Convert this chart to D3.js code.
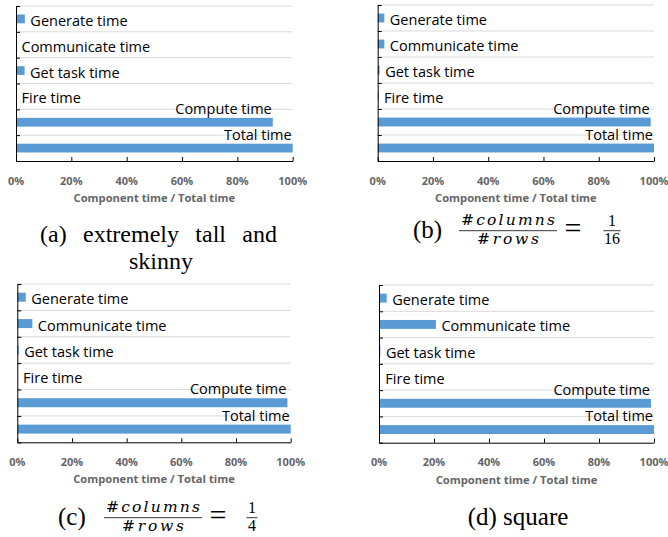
<!DOCTYPE html>
<html>
<head>
<meta charset="utf-8">
<script src="https://cdn.jsdelivr.net/npm/d3@7"></script>
<style>
  body { margin: 0; background: #fff; }
  svg { display: block; }
</style>
</head>
<body>
<svg id="fig"></svg>
<script>
// categories, top to bottom
const categories = ['Generate time', 'Communicate time', 'Get task time', 'Fire time', 'Compute time', 'Total time'];
// component time / total time, in %
const tallSkinny = [3.2, 0, 3.1, 0, 92.8, 100];
const ratio16 = [2.4, 2.4, 0.7, 0.3, 98.8, 100];
const ratio4 = [3.1, 5.5, 0.5, 0.1, 98.8, 100];
const square = [2.8, 20.7, 0.5, 0.3, 98.9, 100];
const xTicks = [0, 20, 40, 60, 80, 100];
const axisTitle = 'Component time / Total time';

(() => {
  const svgDim = { w: 668, h: 537 },
    $svg = d3.select('#fig'),
    labelFont = "'Open Sans', sans-serif",
    serif = "'Liberation Serif', 'Times New Roman', serif",
    mathFont = "'DejaVu Serif', serif",
    barColor = '#5b9bd5';

  $svg.attr('width', svgDim.w)
    .attr('height', svgDim.h)
    .attr('viewBox', '0 0 ' + svgDim.w + ' ' + svgDim.h);

  const drawPanel = (box, values) => {
    const xScale = d3.scaleLinear().domain([0, 100]).range([box.x0, box.x1]),
      yScale = d3.scaleBand().domain(categories).range([box.y0, box.y1]),
      edge = d3.scaleLinear().domain([0, categories.length]).range([box.y0, box.y1]),
      barH = yScale.bandwidth() * 0.34,
      g = $svg.append('g');

    // gridlines on the category borders
    g.selectAll('line.grid')
      .data(d3.range(categories.length))
      .enter()
      .append('line')
      .attr('class', 'grid')
      .attr('x1', box.x0)
      .attr('x2', box.x1)
      .attr('y1', (d) => edge(d))
      .attr('y2', (d) => edge(d))
      .attr('stroke', '#d9d9d9')
      .attr('stroke-width', 1);

    const rows = categories.map((c, i) => ({ name: c, v: values[i] }));

    g.selectAll('rect.bar')
      .data(rows)
      .enter()
      .append('rect')
      .attr('class', 'bar')
      .attr('x', xScale(0))
      .attr('y', (d) => yScale(d.name) + yScale.bandwidth() / 2 - barH / 2)
      .attr('width', (d) => xScale(d.v) - xScale(0))
      .attr('height', barH)
      .attr('fill', barColor);

    // data labels: long bars get the label above, right aligned
    g.selectAll('text.lbl')
      .data(rows)
      .enter()
      .append('text')
      .attr('class', 'lbl')
      .attr('font-family', labelFont)
      .attr('font-size', 14.5)
      .attr('fill', '#000')
      .attr('text-anchor', (d) => d.v > 50 ? 'end' : 'start')
      .attr('x', (d) => d.v > 50 ? xScale(d.v) - 1 : xScale(d.v) + 5.5)
      .attr('y', (d) => d.v > 50
        ? yScale(d.name) + yScale.bandwidth() / 2 - barH / 2 - 4
        : yScale(d.name) + yScale.bandwidth() / 2 + 7)
      .text((d) => d.name);

    // axes
    g.append('g')
      .attr('transform', 'translate(' + box.x0 + ',0)')
      .call(d3.axisLeft(edge).tickValues(d3.range(categories.length + 1)).tickFormat('').tickSizeInner(-4).tickSizeOuter(0));
    g.append('g')
      .attr('transform', 'translate(0,' + box.y1 + ')')
      .call(d3.axisBottom(xScale).tickValues(xTicks).tickFormat('').tickSizeInner(-4).tickSizeOuter(0));
    g.selectAll('.domain, .tick line').attr('stroke', '#000');

    g.selectAll('text.xt')
      .data(xTicks)
      .enter()
      .append('text')
      .attr('class', 'xt')
      .attr('x', (d) => xScale(d))
      .attr('y', box.y1 + 23.5)
      .attr('text-anchor', 'middle')
      .attr('font-family', labelFont)
      .attr('font-weight', 'bold')
      .attr('font-size', 11)
      .attr('fill', '#666')
      .text((d) => d + '%');

    g.append('text')
      .attr('x', (box.x0 + box.x1) / 2)
      .attr('y', box.y1 + 41)
      .attr('text-anchor', 'middle')
      .attr('font-family', labelFont)
      .attr('font-weight', 'bold')
      .attr('font-size', 11.2)
      .attr('fill', '#666')
      .text(axisTitle);
  };

  const fractionCaption = (x, y, tag, den) => {
    const g = $svg.append('g').attr('transform', 'translate(' + x + ',' + y + ')');
    g.append('text')
      .attr('font-family', serif).attr('font-size', 25)
      .attr('x', 0).attr('y', 0)
      .text(tag);
    // #columns / #rows
    g.append('text')
      .attr('font-family', mathFont).attr('font-style', 'italic').attr('font-size', 15.5)
      .attr('text-anchor', 'middle').attr('x', 95).attr('y', -13)
      .attr('textLength', 94).attr('lengthAdjust', 'spacing')
      .text('#columns');
    g.append('line')
      .attr('x1', 46).attr('x2', 144).attr('y1', -7.3).attr('y2', -7.3)
      .attr('stroke', '#000').attr('stroke-width', 0.8);
    g.append('text')
      .attr('font-family', mathFont).attr('font-style', 'italic').attr('font-size', 15.5)
      .attr('text-anchor', 'middle').attr('x', 95).attr('y', 6)
      .attr('textLength', 62).attr('lengthAdjust', 'spacing')
      .text('#rows');
    g.append('text')
      .attr('font-family', serif).attr('font-size', 30)
      .attr('text-anchor', 'middle').attr('x', 160).attr('y', 0)
      .text('=');
    const fx = den.length > 1 ? 199 : 194,
      half = den.length > 1 ? 8.5 : 5.5;
    g.append('text')
      .attr('font-family', serif).attr('font-size', 16)
      .attr('text-anchor', 'middle').attr('x', fx).attr('y', -12.5)
      .text('1');
    g.append('line')
      .attr('x1', fx - half).attr('x2', fx + half)
      .attr('y1', -7.3).attr('y2', -7.3)
      .attr('stroke', '#000').attr('stroke-width', 0.8);
    g.append('text')
      .attr('font-family', serif).attr('font-size', 16)
      .attr('text-anchor', 'middle').attr('x', fx).attr('y', 6)
      .text(den);
  };

  drawPanel({ x0: 16, x1: 292.7, y0: 6, y1: 161 }, tallSkinny);
  drawPanel({ x0: 377.7, x1: 654, y0: 5, y1: 161 }, ratio16);
  drawPanel({ x0: 17.3, x1: 290.7, y0: 284, y1: 442.3 }, ratio4);
  drawPanel({ x0: 379, x1: 654, y0: 285, y1: 442.7 }, square);

  // captions
  const capA = $svg.append('text')
    .attr('font-family', serif).attr('font-size', 24)
    .attr('text-anchor', 'middle').attr('x', 158.5).attr('y', 242)
    .text('(a) extremely tall and');
  const natural = capA.node().getComputedTextLength();
  capA.attr('word-spacing', Math.max(0, (237 - natural) / 3));
  $svg.append('text')
    .attr('font-family', serif).attr('font-size', 24)
    .attr('text-anchor', 'middle').attr('x', 161).attr('y', 269)
    .text('skinny');

  fractionCaption(413, 238, '(b)', '16');
  fractionCaption(58, 525, '(c)', '4');

  $svg.append('text')
    .attr('font-family', serif).attr('font-size', 25)
    .attr('text-anchor', 'middle').attr('x', 518).attr('y', 525)
    .text('(d) square');
})();
</script>
</body>
</html>
